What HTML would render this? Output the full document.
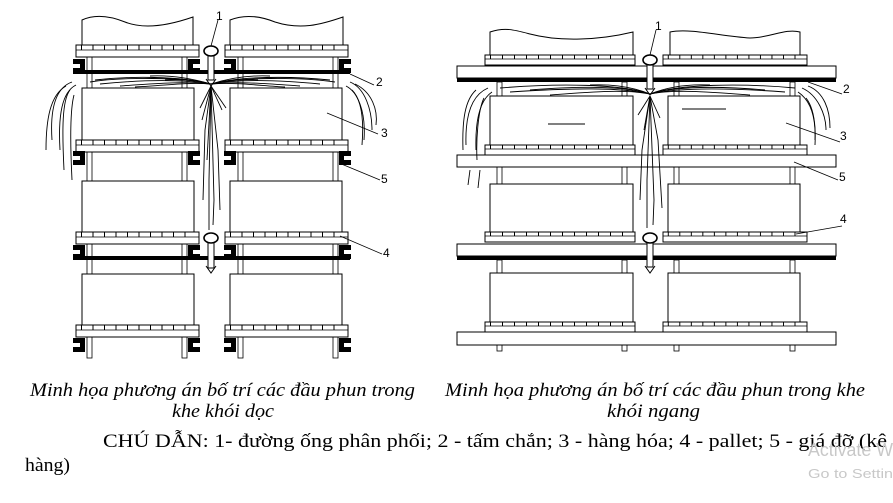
<!DOCTYPE html>
<html><head><meta charset="utf-8"><style>
html,body{margin:0;padding:0;background:#fff;}
svg{display:block;}
</style></head><body>
<svg width="893" height="503" viewBox="0 0 893 503" xmlns="http://www.w3.org/2000/svg">
<defs>
<g id="palL"><rect x="0" y="0" width="123" height="12" fill="#fff" stroke="#000" stroke-width="1"/><line x1="0" y1="5" x2="123" y2="5" stroke="#000" stroke-width="0.8"/><line x1="5" y1="2.5" x2="120" y2="2.5" stroke="#000" stroke-width="5" stroke-dasharray="1 10.5"/></g>
<g id="palR"><rect x="0" y="0" width="150" height="10" fill="#fff" stroke="#000" stroke-width="1"/><line x1="0" y1="4" x2="150" y2="4" stroke="#000" stroke-width="0.8"/><line x1="5" y1="2" x2="147" y2="2" stroke="#000" stroke-width="4" stroke-dasharray="1 11"/></g>
<path id="clR" d="M0,0 h12 v5 h-7 v4 h7 v5 h-12 z" fill="#000"/>
<path id="clLft" d="M0,0 h12 v14 h-12 v-5 h7 v-4 h-7 z" fill="#000"/>
</defs>

<g fill="none" stroke="#000" stroke-width="1">
<g fill="#fff" stroke-width="0.8">
<rect x="87" y="57" width="5" height="31"/><rect x="182" y="57" width="5" height="31"/><rect x="238" y="57" width="5" height="31"/><rect x="333" y="57" width="5" height="31"/>
<rect x="87" y="150" width="5" height="31"/><rect x="182" y="150" width="5" height="31"/><rect x="238" y="150" width="5" height="31"/><rect x="333" y="150" width="5" height="31"/>
<rect x="87" y="244" width="5" height="30"/><rect x="182" y="244" width="5" height="30"/><rect x="238" y="244" width="5" height="30"/><rect x="333" y="244" width="5" height="30"/>
<rect x="87" y="336" width="5" height="22"/><rect x="182" y="336" width="5" height="22"/><rect x="238" y="336" width="5" height="22"/><rect x="333" y="336" width="5" height="22"/>
</g>
<path d="M82,45 V20 C95,14 110,16 125,22 C145,30 170,25 193,17 V45" fill="#fff"/>
<path d="M230,45 V20 C245,14 260,16 275,22 C300,30 320,25 343,17 V45" fill="#fff"/>
<rect x="82" y="88" width="112" height="52" fill="#fff"/><rect x="230" y="88" width="112" height="52" fill="#fff"/>
<rect x="82" y="181" width="112" height="51" fill="#fff"/><rect x="230" y="181" width="112" height="51" fill="#fff"/>
<rect x="82" y="274" width="112" height="51" fill="#fff"/><rect x="230" y="274" width="112" height="51" fill="#fff"/>
</g>
<use href="#palL" x="76" y="45"/><use href="#palL" x="225" y="45"/>
<use href="#palL" x="76" y="140"/><use href="#palL" x="225" y="140"/>
<use href="#palL" x="76" y="232"/><use href="#palL" x="225" y="232"/>
<use href="#palL" x="76" y="325"/><use href="#palL" x="225" y="325"/>
<g>
<use href="#clLft" x="73" y="59"/><use href="#clR" x="188" y="59"/><use href="#clLft" x="224" y="59"/><use href="#clR" x="339" y="59"/>
<use href="#clLft" x="73" y="151"/><use href="#clR" x="188" y="151"/><use href="#clLft" x="224" y="151"/><use href="#clR" x="339" y="151"/>
<use href="#clLft" x="73" y="245"/><use href="#clR" x="188" y="245"/><use href="#clLft" x="224" y="245"/><use href="#clR" x="339" y="245"/>
<use href="#clLft" x="73" y="338"/><use href="#clR" x="188" y="338"/><use href="#clLft" x="224" y="338"/><use href="#clR" x="339" y="338"/>
</g>
<rect x="73" y="70" width="277" height="4" fill="#000"/>
<rect x="73" y="256" width="277" height="4" fill="#000"/>
<g fill="none" stroke="#000" stroke-width="0.9">
<path d="M211,84 C180,76 130,76 95,80"/><path d="M211,84 C180,79 140,80 100,84"/><path d="M211,84 C180,81 150,84 120,86"/><path d="M211,84 C190,78 170,75 150,76"/><path d="M211,84 C185,77 120,77 90,82"/><path d="M211,84 C185,82 160,86 135,87"/><path d="M211,84 C195,80 180,79 165,80"/>
<path d="M211,84 C240,76 290,76 330,80"/><path d="M211,84 C240,79 280,80 320,84"/><path d="M211,84 C240,81 270,84 300,86"/><path d="M211,84 C230,78 250,75 270,76"/><path d="M211,84 C240,77 300,77 335,82"/><path d="M211,84 C237,82 262,86 285,87"/><path d="M211,84 C228,80 243,79 258,80"/>
<path d="M72,82 C55,88 50,110 52,140"/><path d="M76,85 C62,92 58,115 60,150"/><path d="M70,90 C62,100 62,130 64,170"/><path d="M74,95 C70,110 70,140 72,180"/><path d="M66,86 C50,95 46,120 46,150"/>
<path d="M350,82 C365,88 372,110 372,130"/><path d="M346,86 C358,92 366,112 364,140"/><path d="M352,90 C362,100 364,120 362,145"/><path d="M355,84 C372,92 378,110 376,125"/>
<path d="M211,86 L200,108"/><path d="M211,86 L205,130 L203,200"/><path d="M211,86 L209,180 L209,230"/><path d="M211,86 L214,200 L213,225"/><path d="M211,86 L218,150 L220,210"/><path d="M211,86 L222,110"/><path d="M211,86 L226,108"/><path d="M211,86 L202,120"/><path d="M211,86 L207,160"/>
</g>
<g stroke="#000" fill="#fff" stroke-width="1.6">
<rect x="208" y="55" width="6" height="25" stroke-width="1"/><path d="M206,79 L211,86 L216,79" fill="none" stroke-width="1"/>
<ellipse cx="211" cy="51" rx="7" ry="5"/>
<rect x="208" y="242" width="6" height="26" stroke-width="1"/><path d="M206,266 L211,273 L216,266" fill="none" stroke-width="1"/>
<ellipse cx="211" cy="238" rx="7" ry="5"/>
</g>

<g fill="#fff" stroke="#000" stroke-width="0.8">
<rect x="497" y="82" width="5" height="14"/><rect x="622" y="82" width="5" height="14"/><rect x="674" y="82" width="5" height="14"/><rect x="790" y="82" width="5" height="14"/>
<rect x="497" y="167" width="5" height="17"/><rect x="622" y="167" width="5" height="17"/><rect x="674" y="167" width="5" height="17"/><rect x="790" y="167" width="5" height="17"/>
<rect x="497" y="260" width="5" height="13"/><rect x="622" y="260" width="5" height="13"/><rect x="674" y="260" width="5" height="13"/><rect x="790" y="260" width="5" height="13"/>
<rect x="497" y="345" width="5" height="6"/><rect x="622" y="345" width="5" height="6"/><rect x="674" y="345" width="5" height="6"/><rect x="790" y="345" width="5" height="6"/>
</g>
<g fill="#fff" stroke="#000" stroke-width="1">
<path d="M490,55 V32 C505,27 515,30 530,34 C560,42 600,40 633,32 V55"/>
<path d="M670,55 V32 C690,28 720,36 750,38 C770,38 785,28 800,32 V55"/>
<rect x="490" y="96" width="143" height="49"/><rect x="668" y="96" width="132" height="49"/>
<rect x="490" y="184" width="143" height="48"/><rect x="668" y="184" width="132" height="48"/>
<rect x="490" y="273" width="143" height="49"/><rect x="668" y="273" width="132" height="49"/>
</g>
<line x1="548" y1="124" x2="585" y2="124" stroke="#000" stroke-width="1"/>
<line x1="682" y1="109" x2="726" y2="109" stroke="#000" stroke-width="1"/>
<use href="#palR" x="485" y="55"/>
<g transform="translate(663,0) scale(0.96,1) translate(-663,0)"><use href="#palR" x="663" y="55"/></g>
<use href="#palR" x="485" y="145"/>
<g transform="translate(663,0) scale(0.96,1) translate(-663,0)"><use href="#palR" x="663" y="145"/></g>
<use href="#palR" x="485" y="232"/>
<g transform="translate(663,0) scale(0.96,1) translate(-663,0)"><use href="#palR" x="663" y="232"/></g>
<use href="#palR" x="485" y="322"/>
<g transform="translate(663,0) scale(0.96,1) translate(-663,0)"><use href="#palR" x="663" y="322"/></g>
<g fill="#fff" stroke="#000" stroke-width="1">
<rect x="457" y="66" width="379" height="12"/>
<rect x="457" y="155" width="379" height="12"/>
<rect x="457" y="244" width="379" height="12"/>
<rect x="457" y="332" width="379" height="13"/>
</g>
<rect x="457" y="78" width="379" height="4" fill="#000"/>
<rect x="457" y="256" width="379" height="4" fill="#000"/>
<g fill="none" stroke="#000" stroke-width="0.9">
<path d="M650,94 C620,84 560,83 500,88"/><path d="M650,94 C620,87 570,88 510,92"/><path d="M650,94 C625,89 590,92 550,95"/><path d="M650,94 C630,86 610,84 590,85"/><path d="M650,94 C625,86 580,86 530,90"/>
<path d="M650,94 C680,84 740,83 795,88"/><path d="M650,94 C680,87 730,88 785,92"/><path d="M650,94 C675,89 710,92 750,95"/><path d="M650,94 C670,86 690,84 710,85"/><path d="M650,94 C675,86 720,86 765,90"/>
<path d="M488,88 C472,95 465,115 466,145"/><path d="M492,92 C480,100 475,120 476,150"/><path d="M484,98 C478,110 476,140 477,160"/><path d="M470,170 L468,185"/><path d="M480,170 L478,188"/><path d="M476,90 C465,100 462,120 463,150"/>
<path d="M802,88 C818,95 826,115 826,130"/><path d="M798,92 C810,100 816,115 815,140"/><path d="M806,98 C814,108 816,125 815,145"/><path d="M808,86 C824,92 830,110 830,128"/>
<path d="M650,96 L638,115"/><path d="M650,96 L642,150 L640,200"/><path d="M650,96 L647,180 L647,228"/><path d="M650,96 L654,200 L653,225"/><path d="M650,96 L658,140 L662,208"/><path d="M650,96 L660,118"/><path d="M650,96 L644,130"/>
</g>
<g stroke="#000" fill="#fff" stroke-width="1.6">
<rect x="647" y="64" width="6" height="25" stroke-width="1"/><path d="M645,88 L650,95 L655,88" fill="none" stroke-width="1"/>
<ellipse cx="650" cy="60" rx="7" ry="5"/>
<rect x="647" y="242" width="6" height="25" stroke-width="1"/><path d="M645,266 L650,273 L655,266" fill="none" stroke-width="1"/>
<ellipse cx="650" cy="238" rx="7" ry="5"/>
</g>

<g stroke="#000" stroke-width="0.8" fill="none">
<line x1="211" y1="46" x2="218" y2="20"/>
<line x1="350" y1="74" x2="374" y2="85"/>
<line x1="327" y1="113" x2="378" y2="134"/>
<line x1="339" y1="163" x2="380" y2="180"/>
<line x1="340" y1="236" x2="382" y2="254"/>
<line x1="650" y1="55" x2="656" y2="30"/>
<line x1="808" y1="82" x2="842" y2="94"/>
<line x1="786" y1="123" x2="840" y2="142"/>
<line x1="794" y1="162" x2="838" y2="180"/>
<line x1="796" y1="234" x2="842" y2="226"/>
</g>
<g font-family="Liberation Sans, sans-serif" font-size="12" fill="#000">
<text x="216" y="20">1</text><text x="376" y="86">2</text><text x="381" y="137">3</text><text x="381" y="183">5</text><text x="383" y="257">4</text>
<text x="655" y="30">1</text><text x="843" y="93">2</text><text x="840" y="140">3</text><text x="839" y="181">5</text><text x="840" y="223">4</text>
</g>

<g font-family="Liberation Serif, serif" font-size="19" fill="#000">
<text x="30" y="396" font-style="italic" textLength="385" lengthAdjust="spacingAndGlyphs">Minh họa phương án bố trí các đầu phun trong</text>
<text x="172" y="417" font-style="italic" textLength="102" lengthAdjust="spacingAndGlyphs">khe khói dọc</text>
<text x="445" y="396" font-style="italic" textLength="420" lengthAdjust="spacingAndGlyphs">Minh họa phương án bố trí các đầu phun trong khe</text>
<text x="607" y="417" font-style="italic" textLength="93" lengthAdjust="spacingAndGlyphs">khói ngang</text>
<text x="103" y="447" textLength="784" lengthAdjust="spacingAndGlyphs">CHÚ DẪN: 1- đường ống phân phối; 2 - tấm chắn; 3 - hàng hóa; 4 - pallet; 5 - giá đỡ (kê</text>
<text x="25" y="471" textLength="45" lengthAdjust="spacingAndGlyphs">hàng)</text>
</g>
<g font-family="Liberation Sans, sans-serif" fill="#c8c8c8">
<text x="808" y="456" font-size="18" textLength="85" lengthAdjust="spacingAndGlyphs">Activate W</text>
<text x="808" y="478" font-size="13" textLength="85" lengthAdjust="spacingAndGlyphs">Go to Settin</text>
</g>
</svg>
</body></html>
